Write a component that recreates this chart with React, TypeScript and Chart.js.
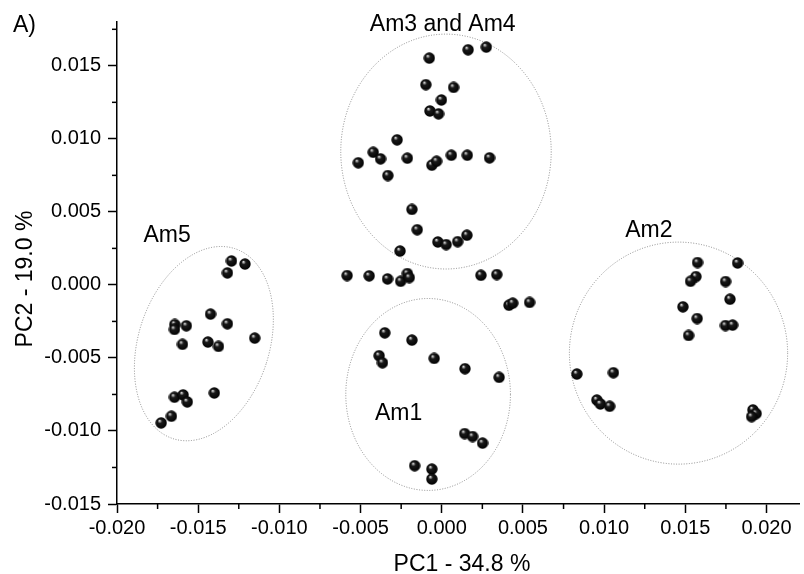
import React, { useEffect, useRef } from "react";
import { Chart, registerables } from "chart.js";
Chart.register(...registerables);

// ---- data (PC1, PC2) ----
const am34Points: [number, number][] = [
  [-0.00077, 0.01553], [0.00162, 0.0161], [0.00274, 0.01628], [-0.00098, 0.01371],
  [0.00073, 0.01352], [-0.00002, 0.01266], [-0.00073, 0.01191], [-0.0002, 0.01171],
  [-0.00275, 0.00993], [-0.00422, 0.00908], [-0.00377, 0.00863], [-0.00514, 0.00836],
  [-0.00212, 0.00868], [-0.00061, 0.0082], [-0.00032, 0.00847], [0.00059, 0.00888],
  [0.00157, 0.00888], [0.00294, 0.0087], [-0.00332, 0.00749], [-0.00184, 0.00517],
  [-0.00151, 0.00378], [-0.00257, 0.00232], [-0.00024, 0.00294], [0.00027, 0.00276],
  [0.00098, 0.00296], [0.00155, 0.0034],
];
const middlePoints: [number, number][] = [
  [-0.00583, 0.00064], [-0.00447, 0.00062], [-0.00334, 0.00041], [-0.00253, 0.00025],
  [-0.00212, 0.00078], [-0.002, 0.0005], [0.00241, 0.00066], [0.00339, 0.00071],
  [0.00414, -0.00139], [0.00437, -0.00125], [0.00541, -0.0012],
];
const am1Points: [number, number][] = [
  [-0.00351, -0.00328], [-0.00184, -0.00378], [-0.00386, -0.00485], [-0.00365, -0.00533],
  [-0.00047, -0.00503], [0.00143, -0.00574], [0.00353, -0.00633], [0.00141, -0.01018],
  [0.0019, -0.01038], [0.00251, -0.01083], [-0.00167, -0.01238], [-0.00061, -0.01261],
  [-0.00061, -0.01329],
];
const am2Points: [number, number][] = [
  [0.01575, 0.00153], [0.01822, 0.0015], [0.01565, 0.00057], [0.01532, 0.00025],
  [0.01748, 0.00023], [0.01485, -0.0015], [0.01775, -0.00098], [0.01573, -0.0023],
  [0.01747, -0.00278], [0.01791, -0.00275], [0.0152, -0.00346], [0.00832, -0.0061],
  [0.01057, -0.00601], [0.00955, -0.00788], [0.00977, -0.00815], [0.01034, -0.00831],
  [0.01916, -0.00856], [0.01936, -0.00881], [0.01908, -0.00902],
];
const am5Points: [number, number][] = [
  [-0.01295, 0.00164], [-0.01212, 0.00143], [-0.0132, 0.00082], [-0.01424, -0.002],
  [-0.0132, -0.00266], [-0.01644, -0.00271], [-0.01646, -0.00305], [-0.01573, -0.0028],
  [-0.01152, -0.00364], [-0.01597, -0.00407], [-0.0144, -0.00391], [-0.01375, -0.00421],
  [-0.01401, -0.0074], [-0.01646, -0.00769], [-0.01593, -0.00753], [-0.01567, -0.00801],
  [-0.01665, -0.00899], [-0.01728, -0.00945],
];

const xMajorTicks = [-0.02, -0.015, -0.01, -0.005, 0, 0.005, 0.01, 0.015, 0.02];
const yMajorTicks = [-0.015, -0.01, -0.005, 0, 0.005, 0.01, 0.015];
const xMin = -0.02, xMax = 0.022;
const yMin = -0.015, yMax = 0.018;

const groupLabels = [
  { text: "Am3 and Am4", x: 0.00006, y: 0.01735 },
  { text: "Am5", x: -0.01691, y: 0.00294 },
  { text: "Am2", x: 0.01275, y: 0.00328 },
  { text: "Am1", x: -0.00266, y: -0.00927 },
];
// ellipse: centre (data), radius along x (x-units), radius along y (y-units), rotation (deg)
const groupEllipses = [
  { cx: 0.00026, cy: 0.00913, rx: 0.00648, ry: 0.00804, rot: 0 },
  { cx: -0.00084, cy: -0.0075, rx: 0.00507, ry: 0.00657, rot: 0 },
  { cx: 0.01458, cy: -0.00467, rx: 0.00672, ry: 0.0076, rot: 0 },
  { cx: -0.01465, cy: -0.00402, rx: 0.00403, ry: 0.00684, rot: 18 },
];

const FONT = "'Liberation Sans', Arial, sans-serif";

const isMajor = (v: number) => Math.abs(v / 0.005 - Math.round(v / 0.005)) < 1e-6;
const withMinor = (majors: number[], lo: number, hi: number) => {
  const all: number[] = [];
  majors.forEach((m) => {
    all.push(m);
    if (m + 0.0025 <= hi + 1e-9) all.push(m + 0.0025);
    if (m === majors[0] && m - 0.0025 >= lo - 1e-9) all.push(m - 0.0025);
  });
  return all.sort((a, b) => a - b);
};

function makeSphere(d: number) {
  const c = document.createElement("canvas");
  c.width = d;
  c.height = d;
  const g = c.getContext("2d")!;
  const r = d / 2;
  const grad = g.createRadialGradient(r * 0.7, r * 0.6, 0, r, r, r);
  grad.addColorStop(0, "#ffffff");
  grad.addColorStop(0.12, "#b0b0b0");
  grad.addColorStop(0.35, "#1a1a1a");
  grad.addColorStop(1, "#000000");
  g.fillStyle = grad;
  g.beginPath();
  g.arc(r, r, r - 0.3, 0, Math.PI * 2);
  g.fill();
  return c;
}

export default function App() {
  const ref = useRef<HTMLCanvasElement>(null);
  useEffect(() => {
    const sphere = makeSphere(12);
    const toData = (arr: [number, number][]) => arr.map(([x, y]) => ({ x, y }));
    const groups = [am34Points, middlePoints, am1Points, am2Points, am5Points];

    const decor = {
      id: "decor",
      beforeDatasetsDraw(chart: any) {
        const { ctx } = chart;
        const xs = chart.scales.x, ys = chart.scales.y;
        ctx.save();
        ctx.strokeStyle = "#8a8a8a";
        ctx.lineWidth = 1;
        ctx.setLineDash([1, 1.6]);
        groupEllipses.forEach((e) => {
          const cx = xs.getPixelForValue(e.cx);
          const cy = ys.getPixelForValue(e.cy);
          const rx = Math.abs(xs.getPixelForValue(e.cx + e.rx) - cx);
          const ry = Math.abs(ys.getPixelForValue(e.cy + e.ry) - cy);
          ctx.beginPath();
          ctx.ellipse(cx, cy, rx, ry, (e.rot * Math.PI) / 180, 0, Math.PI * 2);
          ctx.stroke();
        });
        ctx.restore();
      },
      afterDraw(chart: any) {
        const { ctx, chartArea } = chart;
        const xs = chart.scales.x, ys = chart.scales.y;
        ctx.save();
        // minor ticks
        ctx.strokeStyle = "#000";
        ctx.lineWidth = 1.5;
        xs.ticks.forEach((t: any) => {
          if (isMajor(t.value)) return;
          const px = xs.getPixelForValue(t.value);
          ctx.beginPath();
          ctx.moveTo(px, chartArea.bottom);
          ctx.lineTo(px, chartArea.bottom + 5);
          ctx.stroke();
        });
        ys.ticks.forEach((t: any) => {
          if (isMajor(t.value)) return;
          const py = ys.getPixelForValue(t.value);
          ctx.beginPath();
          ctx.moveTo(chartArea.left, py);
          ctx.lineTo(chartArea.left - 5, py);
          ctx.stroke();
        });
        // group labels
        ctx.fillStyle = "#000";
        ctx.font = `23px ${FONT}`;
        ctx.textAlign = "center";
        ctx.textBaseline = "alphabetic";
        groupLabels.forEach((l) => {
          ctx.fillText(l.text, xs.getPixelForValue(l.x), ys.getPixelForValue(l.y));
        });
        // panel letter
        ctx.textAlign = "left";
        ctx.fillText("A)", 13, 32);
        // axis titles
        ctx.textAlign = "center";
        ctx.fillText("PC1 - 34.8 %", (chartArea.left + chartArea.right) / 2 + 4, 571);
        ctx.translate(31.5, (chartArea.top + chartArea.bottom) / 2 + 16);
        ctx.rotate(-Math.PI / 2);
        ctx.fillText("PC2 - 19.0 %", 0, 0);
        ctx.restore();
      },
    };

    const tickColor = (c: any) => (c.tick && isMajor(c.tick.value) ? "#000" : "rgba(0,0,0,0)");

    const chart = new Chart(ref.current!, {
      type: "scatter",
      data: {
        datasets: groups.map((g) => ({
          data: toData(g),
          pointStyle: sphere as any,
          backgroundColor: "#000",
          borderColor: "#000",
        })),
      },
      options: {
        animation: false,
        responsive: false,
        devicePixelRatio: 1,
        layout: { padding: { top: 22, left: 0, right: 0, bottom: 0 } },
        plugins: { legend: { display: false }, tooltip: { enabled: false } },
        scales: {
          x: {
            type: "linear",
            min: xMin,
            max: xMax,
            afterBuildTicks: (s: any) => {
              s.ticks = withMinor(xMajorTicks, xMin, xMax).map((v) => ({ value: v }));
            },
            afterFit: (s: any) => {
              s.height = 70;
            },
            ticks: {
              autoSkip: false,
              maxRotation: 0,
              padding: 3,
              color: "#000",
              font: { family: FONT, size: 20 },
              callback: (v: any) => (isMajor(Number(v)) ? Number(v).toFixed(3) : ""),
            },
            grid: {
              drawOnChartArea: false,
              drawTicks: true,
              tickLength: 9,
              tickWidth: 1.5,
              tickColor,
            },
            border: { display: true, color: "#000", width: 1.5 },
          },
          y: {
            type: "linear",
            min: yMin,
            max: yMax,
            afterBuildTicks: (s: any) => {
              s.ticks = withMinor(yMajorTicks, yMin, yMax).map((v) => ({ value: v }));
            },
            afterFit: (s: any) => {
              s.width = 117;
            },
            ticks: {
              autoSkip: false,
              padding: 7,
              color: "#000",
              font: { family: FONT, size: 20 },
              callback: (v: any) => (isMajor(Number(v)) ? Number(v).toFixed(3) : ""),
            },
            grid: {
              drawOnChartArea: false,
              drawTicks: true,
              tickLength: 9,
              tickWidth: 1.5,
              tickColor,
            },
            border: { display: true, color: "#000", width: 1.5 },
          },
        },
      },
      plugins: [decor],
    } as any);
    return () => chart.destroy();
  }, []);

  return (
    <div style={{ position: "absolute", left: 0, top: 0, width: 804, height: 574, background: "#fff" }}>
      <canvas ref={ref} width={804} height={574} style={{ display: "block" }} />
    </div>
  );
}
